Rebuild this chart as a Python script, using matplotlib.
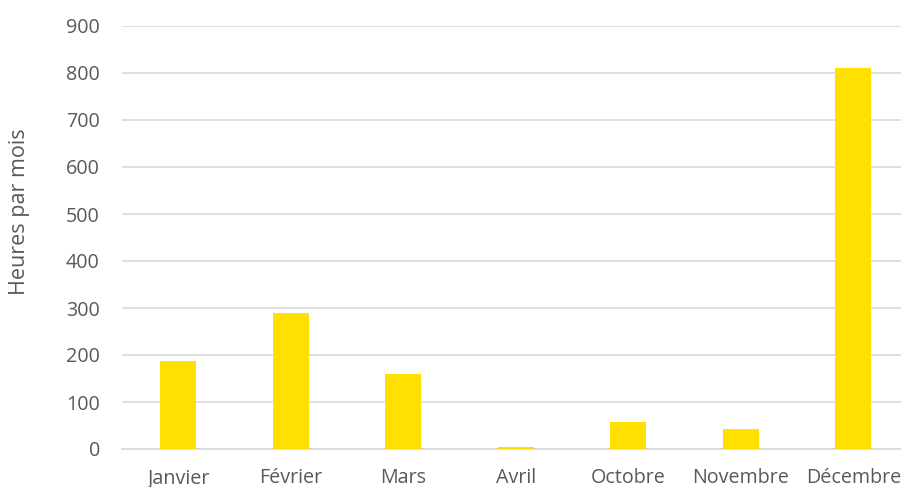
import matplotlib
matplotlib.use("Agg")
import matplotlib.pyplot as plt

months = ["Janvier", "Février", "Mars", "Avril", "Octobre", "Novembre", "Décembre"]
hours = [188, 289, 160, 4, 57, 43, 810]
yticks = [0, 100, 200, 300, 400, 500, 600, 700, 800, 900]

plt.rcParams['font.family'] = ['Open Sans', 'DejaVu Sans']
W, H = 901, 487
fig = plt.figure(figsize=(W/100, H/100), dpi=100)
left, right = 122, 909.5
bottom, top = 449, 26
ax = fig.add_axes([left/W, (H-bottom)/H, (right-left)/W, (bottom-top)/H])

x = list(range(len(months)))
ax.bar(x, hours, width=0.32, color="#FFE000", zorder=3)
ax.set_xlim(-0.5, len(months)-0.5)
ax.set_ylim(0, 900)
ax.set_yticks(yticks)
ax.set_yticklabels([str(v) for v in yticks])
ax.set_xticks(x)
ax.set_xticklabels(months)
ax.grid(axis='y', color="#D9D9D9", linewidth=1.2, zorder=0)
for s in ['top', 'right', 'left']:
    ax.spines[s].set_visible(False)
ax.spines['bottom'].set_color("#D9D9D9")
ax.spines['bottom'].set_linewidth(1.2)
ax.tick_params(axis='both', length=0, labelsize=14.2, labelcolor="#595959")
ax.tick_params(axis='y', pad=16)
ax.tick_params(axis='x', pad=14)
ax.set_ylabel("Heures par mois", fontsize=15.5, color="#595959")
ax.yaxis.set_label_coords((30-left)/(right-left), (bottom-212)/(bottom-top))

fig.savefig("out.png", dpi=100)
